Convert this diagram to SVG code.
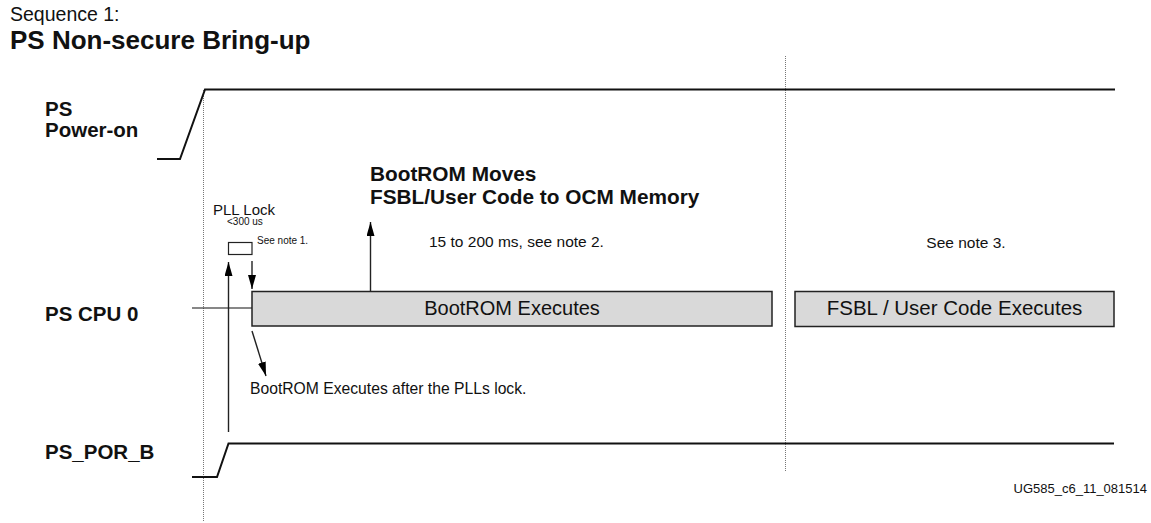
<svg xmlns="http://www.w3.org/2000/svg" width="1151" height="523" viewBox="0 0 1151 523">
<style>
text{font-family:"Liberation Sans",Arial,sans-serif;fill:#111}
.b{font-weight:bold}
.sig{fill:none;stroke:#111;stroke-width:2}
.thin{fill:none;stroke:#111;stroke-width:1.2}
.dot{fill:none;stroke:#777;stroke-width:1;stroke-dasharray:1 1}
.box{fill:#d9d9d9;stroke:#222;stroke-width:1.5}
.arr{fill:none;stroke:#222;stroke-width:1.4;marker-end:url(#ah)}
</style>
<defs>
<marker id="ah" markerUnits="userSpaceOnUse" markerWidth="14" markerHeight="8" refX="14" refY="4" orient="auto" viewBox="0 0 14 8">
<path d="M0,0 L14,4 L0,8 Z" fill="#000"/>
</marker>
</defs>
<rect width="1151" height="523" fill="#fff"/>
<g id="title">
<text x="10" y="21" font-size="19.5">Sequence 1:</text>
<text x="10" y="49" font-size="26" class="b">PS Non-secure Bring-up</text>
</g>
<g id="guides">
<line class="dot" x1="203.5" y1="90" x2="203.5" y2="521"/>
<line class="dot" x1="785.5" y1="56" x2="785.5" y2="471"/>
</g>
<g id="ps-power-on">
<text x="45" y="116" font-size="20.5" class="b">PS</text>
<text x="45" y="137" font-size="20.5" class="b">Power-on</text>
<polyline class="sig" points="157,159 180,159 205,89.5 1115,89.5"/>
</g>
<g id="ps-cpu0">
<text x="45" y="321" font-size="20.5" class="b">PS CPU 0</text>
<line class="thin" x1="192" y1="308" x2="252" y2="308"/>
</g>
<g id="ps-por-b">
<text x="45" y="459" font-size="20.5" class="b">PS_POR_B</text>
<polyline class="sig" points="192,477 217,477 228.5,443.5 1114,443.5"/>
</g>
<g id="pll-lock">
<text x="213" y="215" font-size="15">PLL Lock</text>
<text x="227" y="225" font-size="10">&lt;300 us</text>
<rect x="228.5" y="242.5" width="23.5" height="12" fill="#fff" stroke="#222" stroke-width="1.2"/>
<text x="257" y="244" font-size="10">See note 1.</text>
</g>
<g id="bootrom">
<rect class="box" x="252" y="291.5" width="520" height="34.5"/>
<text x="512" y="315" font-size="20" text-anchor="middle">BootROM Executes</text>
</g>
<g id="fsbl">
<rect class="box" x="795" y="291.5" width="319" height="35"/>
<text x="954.5" y="315" font-size="20.5" text-anchor="middle">FSBL / User Code Executes</text>
</g>
<g id="bootrom-moves">
<text x="370" y="181" font-size="20.8" class="b">BootROM Moves</text>
<text x="370" y="204" font-size="20.8" class="b">FSBL/User Code to OCM Memory</text>
<text x="429" y="247" font-size="15.5">15 to 200 ms, see note 2.</text>
</g>
<g id="note3">
<text x="966" y="248" font-size="15.5" text-anchor="middle">See note 3.</text>
</g>
<g id="after-pll">
<text x="250" y="394" font-size="15.7">BootROM Executes after the PLLs lock.</text>
</g>
<g id="connectors">
<line class="arr" x1="228.5" y1="432" x2="228.5" y2="262"/>
<line class="arr" x1="252" y1="261" x2="252" y2="289"/>
<line class="arr" x1="370.5" y1="291" x2="370.5" y2="222"/>
<line class="arr" x1="252" y1="331" x2="266" y2="376"/>
</g>
<g id="figure-id">
<text x="1147" y="493" font-size="13" text-anchor="end">UG585_c6_11_081514</text>
</g>
</svg>
